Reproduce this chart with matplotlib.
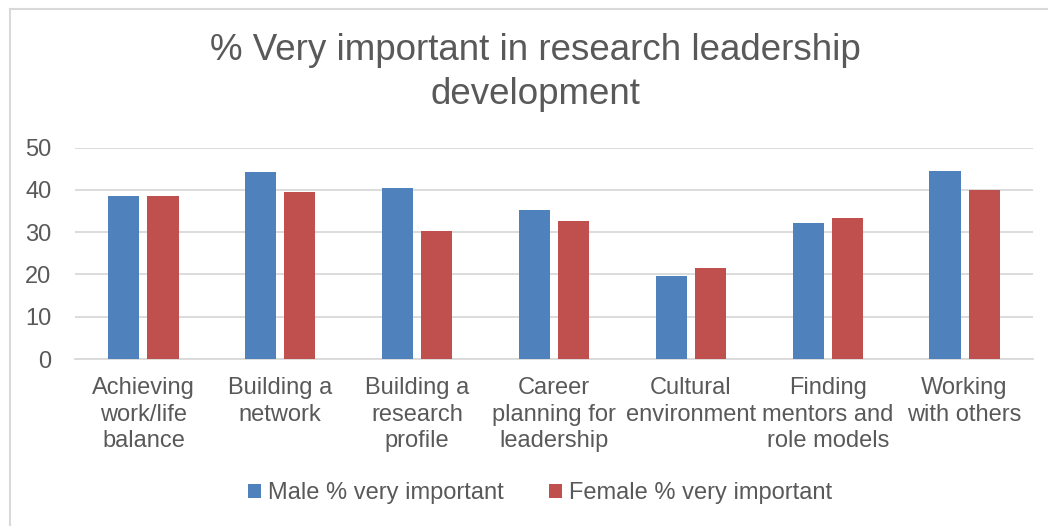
import numpy as np
import matplotlib.pyplot as plt
from matplotlib.lines import Line2D

# data
categories = ["Achieving\nwork/life\nbalance", "Building a\nnetwork", "Building a\nresearch\nprofile",
              "Career\nplanning for\nleadership", "Cultural\nenvironment", "Finding\nmentors and\nrole models",
              "Working\nwith others"]
male = [38.6, 44.2, 40.5, 35.3, 19.7, 32.1, 44.6]
female = [38.6, 39.5, 30.4, 32.6, 21.5, 33.4, 40.0]
series_names = ["Male % very important", "Female % very important"]

text_col = "#595959"
grid_col = "#D9D9D9"
plt.rcParams['font.family'] = ["Liberation Sans", "DejaVu Sans"]

fig = plt.figure(figsize=(10.48, 5.26), dpi=100)
ax = fig.add_axes([75/1048, 1 - 359/526, (1033 - 75)/1048, (359 - 147.7)/526])

x = np.arange(len(categories))
w = 0.227
ax.bar(x - 0.143, male, w, color="#4F81BD", label=series_names[0], zorder=3)
ax.bar(x + 0.143, female, w, color="#C0504D", label=series_names[1], zorder=3)

ax.set_xlim(-0.5, len(categories) - 0.5)
ax.set_ylim(0, 50)
ax.set_yticks(np.arange(0, 51, 10))
ax.yaxis.grid(True, color=grid_col, linewidth=1.3, zorder=0)
ax.set_axisbelow(True)
for s in ["top", "right", "left"]:
    ax.spines[s].set_visible(False)
ax.spines["bottom"].set_color(grid_col)
ax.spines["bottom"].set_linewidth(1.3)

ax.set_xticks(x)
ax.set_xticklabels(categories, fontsize=17, color=text_col, linespacing=1.27)
ax.tick_params(axis='x', length=0, pad=13)
ax.tick_params(axis='y', length=0, pad=17, labelsize=17, labelcolor=text_col)

fig.text(535/1048, 1 - 33/526, "% Very important in research leadership\ndevelopment", ha="center", va="top",
         fontsize=26.5, color=text_col, linespacing=1.32)

leg = fig.legend(loc="center", bbox_to_anchor=(540/1048, 1 - 493/526), ncol=2, frameon=False,
                 prop={"size": 17}, handlelength=0.55, handleheight=0.55,
                 handletextpad=0.3, columnspacing=1.9)
for t in leg.get_texts():
    t.set_color(text_col)

# chart border (only top and left are visible in the crop)
fig.add_artist(Line2D([10/1048, 10/1048], [0, 1 - 9/526], transform=fig.transFigure, color=grid_col, linewidth=1.5))
fig.add_artist(Line2D([10/1048, 1], [1 - 9/526, 1 - 9/526], transform=fig.transFigure, color=grid_col, linewidth=1.5))

fig.savefig("out.png", dpi=100)
